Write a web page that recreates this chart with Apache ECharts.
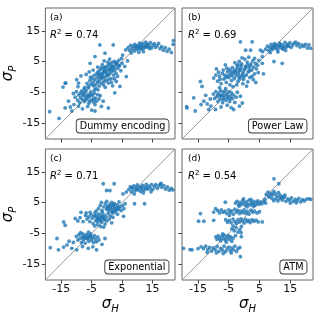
<!DOCTYPE html>
<html>
<head>
<meta charset="utf-8">
<script src="https://cdn.jsdelivr.net/npm/echarts@6/dist/echarts.min.js"></script>
<style>
html,body{margin:0;padding:0;background:#fff}
#main{width:320px;height:320px}
</style>
</head>
<body>
<div id="main"></div>
<script>
// axis / labels
var tickValues=[-15,-5,5,15];
var axisMin=-20.2, axisMax=22.4;
var panelTags=['(a)','(b)','(c)','(d)'];
var r2Values=['0.74','0.69','0.71','0.54'];
var modelNames=['Dummy encoding','Power Law','Exponential','ATM'];

// (a) dummy encoding : [sigma_H, sigma_P]
var pointsA=[
[6.2,8.8],[7.0,9.5],[7.5,8.6],[7.8,10.2],[8.3,9.1],[8.6,9.9],[9.0,8.4],[9.2,10.6],[9.5,9.4],[9.9,8.9],
[10.1,10.1],[10.4,9.6],[10.7,11.0],[11.0,9.0],[11.2,10.4],[11.5,9.8],[11.8,10.9],[12.1,9.3],[12.4,10.2],[12.8,11.3],
[13.1,9.7],[13.5,10.6],[13.9,10.0],[14.3,11.1],[14.7,9.4],[15.2,10.3],[15.6,10.8],[16.0,9.6],[16.5,10.1],[17.0,10.9],
[17.5,9.2],[18.0,9.8],[18.6,8.7],[19.2,9.5],[19.8,8.3],[20.5,9.0],[21.2,7.9],[21.8,10.6],[21.9,11.8],[8.0,7.8],
[5.2,7.1],[10.5,8.0],[12.0,8.2],[9.6,10.0],[11.4,9.2],[12.7,9.8],[14.0,9.2],[10.8,9.6],[13.3,10.4],
[-7.2,-3.4],[-6.5,-2.1],[-6.0,-3.0],[-5.6,-1.2],[-5.2,-2.4],[-4.9,-0.5],[-4.6,-1.8],[-4.3,0.4],[-4.0,-1.0],[-3.8,-2.6],
[-3.5,0.9],[-3.3,-0.3],[-3.0,1.5],[-2.8,-1.4],[-2.6,0.2],[-2.4,2.1],[-2.2,-0.8],[-2.0,1.0],[-1.8,-2.0],[-1.6,0.6],
[-1.4,2.6],[-1.2,-0.2],[-1.0,1.6],[-0.8,3.2],[-0.6,0.0],[-0.4,2.0],[-0.2,-1.2],[0.0,1.2],[0.2,3.6],[0.4,0.4],
[0.6,2.4],[0.8,4.2],[1.0,1.0],[1.2,2.9],[1.4,-0.6],[1.6,4.6],[1.8,1.8],[2.0,3.4],[2.2,0.6],[2.4,5.0],
[2.6,2.2],[2.8,3.9],[3.0,1.2],[3.3,4.6],[3.6,2.8],[3.9,5.4],[4.2,3.6],[4.6,2.0],[5.0,4.4],[-1.5,4.0],
[-3.0,3.2],[-4.5,2.2],[0.5,-2.0],[1.5,-1.8],[-2.5,-3.0],[-0.5,-3.4],[2.5,-0.6],[3.5,0.2],[-6.8,0.8],[-5.8,1.6],
[-0.9,5.2],[0.9,5.8],[-2.9,-4.2],[4.8,6.0],[-1.9,3.0],[0.3,4.8],[1.9,-2.9],[-3.6,-3.8],[-1.1,-2.6],[3.1,-1.5],
[-4.1,-4.3],[-2.1,0.3],[-1.3,1.1],[-0.7,1.9],[0.1,0.7],[0.9,2.0],[1.7,2.6],[2.3,3.0],[-0.3,3.0],[-1.7,-0.4],
[-3.1,-1.9],[-2.7,0.9],[0.6,-0.8],[1.4,3.7],[2.9,4.6],[-4.4,-2.9],[-5.4,-0.1],[3.8,3.8],[-0.9,-1.5],
[-2.3,10.4],[2.1,10.4],[-0.6,7.7],[-3.9,6.6],[-5.5,4.4],[-9.9,-0.9],[-13.7,-2.0],[-14.4,-3.3],[-9.3,-2.0],[5.9,3.4],
[6.4,0.1],[4.3,-3.1],[2.6,-5.2],[-8.5,0.3],[6.8,5.2],
[-11.0,-5.4],[-10.4,-6.6],[-10.0,-4.8],[-9.6,-7.6],[-9.2,-5.9],[-8.9,-8.4],[-8.6,-6.8],[-8.3,-4.6],[-8.0,-7.3],[-7.7,-5.5],
[-7.4,-8.0],[-7.1,-6.3],[-6.8,-4.4],[-6.5,-7.0],[-6.2,-5.7],[-5.9,-8.6],[-5.6,-6.5],[-5.3,-4.9],[-5.0,-7.6],[-4.7,-6.0],
[-4.4,-8.2],[-4.1,-5.3],[-3.8,-6.9],[-3.4,-7.9],[-3.0,-5.8],[-2.6,-7.2],[-2.2,-6.1],[-6.0,-3.6],[-7.5,-3.9],[-9.5,-3.2],
[-7.9,-6.0],[-6.9,-7.4],[-6.1,-6.2],[-5.2,-5.6],[-4.3,-7.2],[-7.3,-5.0],[-8.7,-5.3],[-5.7,-7.9],
[-12.6,-7.9],[-13.7,-10.1],[-11.5,-11.1],[-9.3,-9.5],[-3.9,-9.0],[-1.2,-7.9],[0.5,-10.1],[-3.9,-11.1],[-10.8,-9.0],[-12.0,-9.8],
[-8.0,-10.4],[-6.3,-9.6],[-5.0,-10.8],[-1.8,-9.6],[-18.8,-11.3],[-15.7,-13.5],[-13.5,-2.0]
];

// (b) power law
var pointsB=[
[7.0,9.0],[7.6,10.0],[8.0,8.6],[8.4,9.6],[8.8,10.6],[9.2,8.9],[9.5,9.9],[9.9,10.8],[10.2,9.3],[10.5,10.3],
[10.9,8.8],[11.2,9.8],[11.5,11.0],[11.9,9.5],[12.2,10.5],[12.6,9.0],[12.9,10.1],[13.3,11.2],[13.7,9.7],[14.1,10.6],
[14.5,10.0],[14.9,11.1],[15.3,9.6],[15.8,10.4],[16.3,11.0],[16.8,11.3],[17.2,10.2],[17.7,10.8],[18.2,9.7],[18.8,10.4],
[19.4,9.9],[20.0,10.6],[20.6,9.4],[21.1,10.4],[21.7,9.3],[6.0,8.2],[8.5,7.9],[11.0,8.1],[13.5,8.6],[9.7,5.0],
[12.4,4.4],[5.9,6.6],[10.0,9.8],[11.6,10.2],[12.8,9.4],[14.2,10.2],[9.0,9.4],
[-1.2,11.4],[2.6,11.4],[0.5,8.7],[2.1,8.7],[5.3,8.7],[-6.1,3.9],[5.9,4.4],[-14.2,-1.5],[-13.7,-3.1],[3.8,-1.8],
[6.3,1.0],[-9.0,2.6],
[-9.9,-0.4],[-9.2,0.6],[-8.6,-1.4],[-8.0,0.2],[-7.5,-2.2],[-7.0,1.1],[-6.6,-0.7],[-6.2,0.5],[-5.8,-1.8],[-5.4,1.6],
[-5.0,-0.2],[-4.7,2.4],[-4.4,0.8],[-4.1,-1.2],[-3.8,3.0],[-3.5,1.2],[-3.2,-0.6],[-2.9,2.2],[-2.6,0.3],[-2.3,3.6],
[-2.0,-1.5],[-1.7,1.8],[-1.4,0.0],[-1.1,2.8],[-0.8,4.2],[-0.5,1.0],[-0.2,-0.8],[0.1,2.4],[0.4,3.4],[0.7,0.6],
[1.0,4.8],[1.3,1.6],[1.6,3.0],[1.9,-0.2],[2.2,4.2],[2.5,2.2],[2.8,5.2],[3.1,3.2],[3.4,1.0],[3.7,4.4],
[4.0,2.6],[4.4,3.8],[4.8,5.4],[-3.0,4.6],[-1.6,5.0],[0.2,5.8],[-5.6,2.8],[-2.4,-2.6],[-0.4,-2.2],[1.2,-1.6],
[-4.6,-2.6],[2.6,0.2],[-6.8,2.2],[-3.6,-3.2],[0.8,-3.0],[-1.0,3.6],[-2.0,4.0],[1.8,2.0],[-3.3,1.9],[0.0,0.2],
[-1.9,0.9],[3.0,-0.9],[-7.8,-0.8],[-8.3,1.5],[-5.2,0.3],[4.6,1.4],[-0.7,6.2],[1.5,6.4],[3.4,6.0],
[-2.7,1.4],[-1.3,2.2],[-0.3,1.6],[0.5,2.9],[1.1,3.9],[-0.9,0.2],[-2.2,2.8],[-3.9,0.3],[2.0,3.6],[-4.3,1.7],
[-6.0,-0.2],[-1.6,-0.6],
[-10.0,-5.6],[-9.6,-7.0],[-9.2,-4.8],[-8.9,-6.4],[-8.5,-8.0],[-8.2,-5.3],[-7.9,-7.2],[-7.6,-4.4],[-7.3,-6.1],[-7.0,-8.4],
[-6.8,-5.0],[-6.5,-6.8],[-6.2,-4.6],[-5.9,-7.6],[-5.6,-5.6],[-5.3,-6.9],[-5.0,-4.8],[-4.7,-8.0],[-4.4,-6.2],[-4.1,-5.2],
[-3.8,-7.1],[-3.4,-5.9],[-3.0,-8.3],[-2.6,-6.6],[-2.2,-5.0],[-6.0,-3.8],[-8.0,-3.5],[-1.2,-6.3],[-0.6,-8.5],[-13.1,-7.9],
[-7.7,-6.2],[-6.6,-5.9],[-5.4,-6.3],[-6.9,-7.4],[-8.6,-5.9],[-4.6,-7.1],
[-16.4,-6.8],[-18.6,-10.1],[-15.9,-11.1],[-11.5,-10.6],[-9.3,-10.6],[-3.4,-10.6],[-12.0,-8.8],[-10.8,-9.5],[-7.5,-9.8],[-5.5,-9.2],
[-4.2,-10.0],[-11.0,-7.2],[-14.0,-9.0],[-1.5,-9.5],[-18.7,-9.7],[-12.5,-6.0]
];

// (c) exponential
var pointsC=[
[7.2,9.2],[7.7,10.1],[8.1,8.5],[8.5,9.6],[8.9,10.4],[9.3,8.8],[9.7,9.8],[10.0,10.7],[10.4,9.1],[10.8,10.1],
[11.1,8.6],[11.5,9.5],[11.8,10.6],[12.2,9.0],[12.6,10.0],[13.0,10.9],[13.4,9.4],[13.8,10.3],[14.2,9.7],[14.7,10.8],
[15.1,9.2],[15.6,10.2],[16.1,10.8],[16.6,9.6],[17.1,10.4],[17.6,11.0],[18.1,9.9],[18.7,10.5],[19.3,9.4],[19.9,10.1],
[20.5,9.0],[21.1,9.6],[21.7,9.1],[6.4,8.4],[9.0,7.8],[12.0,8.1],[14.5,8.5],[9.1,4.6],[12.4,4.6],[5.3,7.8],
[17.8,11.2],[9.9,9.3],[11.3,10.0],[12.9,9.6],[8.2,9.9],
[-1.2,11.1],[2.4,11.1],[1.0,8.9],[-0.1,8.9],[-14.2,-1.3],[-13.7,-2.4],[-8.5,1.8],[5.5,0.5],
[-2.8,3.0],[-2.2,4.0],[-1.6,2.4],[-1.0,3.6],[-0.5,4.6],[-0.1,2.8],[0.3,3.8],[0.7,2.2],[1.0,4.4],[1.3,3.2],
[1.6,5.0],[1.9,2.6],[2.2,3.8],[2.5,4.6],[2.8,2.0],[3.1,3.4],[3.4,4.2],[3.7,2.8],[4.0,5.2],[4.3,3.6],
[4.7,2.4],[5.1,4.0],[5.6,3.0],[0.0,5.4],[-1.8,5.0],[2.0,1.6],[3.5,1.2],[6.0,4.6],[0.6,3.0],[2.6,3.1],
[1.2,3.7],[2.0,4.3],[3.0,2.6],[0.2,3.4],[1.7,2.0],[3.9,3.2],
[-7.0,0.8],[-6.5,-0.4],[-6.0,0.3],[-5.6,-1.2],[-5.2,1.0],[-4.8,-0.1],[-4.5,-1.8],[-4.2,0.6],[-3.9,1.6],[-3.6,-0.8],
[-3.3,0.2],[-3.0,-2.2],[-2.7,1.2],[-2.4,-0.4],[-2.1,0.8],[-1.8,-1.4],[-1.5,1.8],[-1.2,-0.2],[-0.9,0.9],[-0.6,-2.0],
[-0.3,0.3],[0.0,-1.0],[0.4,1.4],[0.8,-0.4],[1.2,0.6],[1.6,-1.6],[2.0,0.2],[-2.0,-2.8],[-4.0,-2.6],[-1.0,-3.0],
[-3.5,2.2],[-5.5,1.8],[-10.4,-0.2],[-9.5,-1.0],[-8.8,0.1],[-7.8,-1.2],[-6.8,1.6],[-2.6,0.0],[-1.4,0.4],[-3.2,-1.2],
[-2.2,-0.9],[-1.6,0.1],[-3.7,0.7],[-0.8,-0.6],[-2.9,-0.4],
[-10.0,-6.0],[-9.5,-7.2],[-9.1,-5.4],[-8.7,-6.6],[-8.3,-8.0],[-8.0,-5.2],[-7.7,-7.0],[-7.4,-6.0],[-7.1,-8.2],[-6.8,-5.4],
[-6.5,-6.8],[-6.2,-5.8],[-5.9,-7.6],[-5.6,-6.2],[-5.3,-5.2],[-5.0,-7.2],[-4.7,-6.4],[-4.4,-8.0],[-4.1,-5.8],[-3.8,-6.9],
[-3.4,-7.8],[-3.0,-6.2],[-2.6,-7.2],[-6.0,-4.6],[-8.6,-4.8],[-7.2,-6.4],[-6.2,-6.6],[-5.4,-5.8],[-7.9,-6.2],
[-16.4,-6.7],[-18.6,-9.7],[-15.9,-10.4],[-13.1,-8.8],[-11.5,-9.9],
[-9.9,-10.4],[-3.4,-10.4],[-0.6,-6.7],[-6.1,-9.9],[-12.4,-7.6],[-8.0,-9.3],[-4.6,-9.4],[-1.6,-8.6],[-14.2,-9.5],[-11.0,-8.0]
];

// (d) ATM
var pointsD=[
[7.2,7.6],[7.8,8.4],[8.3,7.2],[8.8,8.0],[9.3,7.5],[9.7,8.6],[10.2,7.8],[10.7,7.0],[11.2,8.2],[11.7,7.4],
[12.2,6.6],[9.0,6.4],[9.6,5.6],[10.3,6.2],[11.0,5.5],[11.6,6.3],[12.4,5.8],[13.0,6.6],[13.6,5.4],[14.2,6.2],
[14.8,5.7],[15.4,6.5],[16.0,5.3],[16.6,6.0],[17.2,5.6],[17.8,6.3],[18.4,5.2],[19.0,5.9],[19.6,5.5],[20.3,6.1],
[21.1,6.2],[21.7,6.0],[13.3,7.4],[15.0,4.8],[17.0,4.9],[11.3,11.1],[9.7,12.7],[8.0,6.8],[12.8,7.0],[6.8,6.0],
[-2.8,4.8],[-2.3,5.4],[-1.8,4.2],[-1.3,5.0],[-0.8,4.4],[-0.4,5.6],[0.0,4.8],[0.4,4.0],[0.8,5.2],[1.2,4.5],
[1.6,5.8],[2.0,4.2],[2.4,5.0],[2.8,4.6],[3.2,5.4],[3.6,4.1],[4.0,4.9],[4.4,5.5],[4.8,4.4],[5.3,5.1],
[5.8,4.6],[6.4,5.3],[7.0,4.8],[-0.2,6.2],[1.0,3.6],[3.0,3.8],[-1.6,3.8],[2.2,6.0],
[-8.6,2.4],[-8.0,1.6],[-7.4,2.6],[-6.8,1.8],[-6.2,2.2],[-5.6,1.4],[-5.0,2.6],[-4.5,1.8],[-4.0,2.3],[-3.5,1.2],
[-3.0,2.8],[-2.5,1.9],[-2.0,2.4],[-1.5,1.4],[-1.0,2.2],[-0.5,1.7],[0.0,2.6],[0.5,1.5],[1.0,2.1],[1.6,1.2],
[2.2,2.5],[2.8,1.8],[3.4,2.2],[4.2,1.6],[5.0,2.0],[-6.1,5.1],[-9.3,3.0],[-9.9,1.9],[-14.2,1.4],[-4.8,0.8],
[-6.0,-0.6],[-5.4,-1.4],[-4.8,-0.8],[-4.2,-1.6],[-3.6,-0.4],[-3.0,-1.2],[-2.5,-1.8],[-2.0,-0.6],[-1.5,-1.3],[-1.0,-0.3],
[-0.5,-1.0],[0.0,-1.7],[0.5,-0.5],[1.0,-1.2],[1.5,-0.8],[2.0,-1.5],[2.6,-0.6],[3.2,-1.1],[3.9,-0.7],[4.6,-1.3],
[5.9,-1.3],[-13.1,-1.1],[-14.8,-1.1],[-9.9,-0.8],
[-4.0,-3.6],[-3.2,-4.2],[-2.6,-3.2],[-2.0,-4.6],[-1.4,-3.8],[-0.9,-2.8],[-3.6,-2.6],[-1.0,-4.8],
[-9.2,-6.2],[-8.8,-7.0],[-8.4,-5.8],[-8.0,-6.6],[-7.6,-7.4],[-7.2,-6.0],[-6.8,-6.8],[-6.4,-5.6],[-6.0,-7.2],[-5.6,-6.4],
[-5.2,-5.8],[-4.8,-7.0],[-4.4,-6.2],[-4.0,-7.6],[-3.6,-6.6],[-7.0,-5.2],[-5.8,-7.9],[-0.9,-6.1],[-2.8,-5.8],
[-14.0,-9.4],[-13.2,-10.0],[-12.5,-9.2],[-11.8,-10.3],[-11.2,-9.6],[-10.6,-10.8],[-10.0,-9.8],[-9.4,-10.4],[-8.8,-9.3],[-8.2,-10.9],
[-7.6,-9.9],[-7.0,-10.5],[-6.5,-9.2],[-6.0,-11.0],[-5.5,-10.1],[-5.0,-9.5],[-4.5,-10.7],[-4.0,-9.8],[-3.5,-10.4],[-3.0,-9.2],
[-2.5,-10.9],[-2.0,-10.0],[-1.4,-9.6],[-9.0,-11.4],[-12.0,-11.2],[-6.8,-11.6],[-4.2,-11.4],[-1.2,-12.6],[-19.7,-9.9],[-16.9,-10.4],
[-17.6,-10.3],[-15.0,-10.0]
];

var panelPoints=[pointsA,pointsB,pointsC,pointsD];
var FONT='DejaVu Sans';
var chart=echarts.init(document.getElementById('main'));

var pos=[[44,8],[182,8],[44,149],[182,149]];
var W=131, H=131;
var grids=[], xAxes=[], yAxes=[], series=[], graphics=[];

var nameRich={
    s:{fontSize:15,fontStyle:'italic',fontFamily:FONT,color:'#000',lineHeight:20},
    sub:{fontSize:10,fontStyle:'italic',fontFamily:FONT,color:'#000',verticalAlign:'bottom'}
};

for(var i=0;i<4;i++){
    var L=pos[i][0], T=pos[i][1];
    var bottomRow=i>=2, leftCol=(i%2==0);
    grids.push({left:L,top:T,width:W,height:H,show:true,borderColor:'#666',borderWidth:1,backgroundColor:'#fff'});
    xAxes.push({
        gridIndex:i,type:'value',min:axisMin,max:axisMax,position:'bottom',
        axisLine:{show:false,onZero:false},splitLine:{show:false},
        axisTick:{show:true,length:3.5,lineStyle:{color:'#444'},customValues:tickValues},
        axisLabel:{show:bottomRow,margin:4,fontSize:11,fontFamily:FONT,color:'#111',customValues:tickValues},
        name:bottomRow?'{s|σ}{sub|H}':'',nameLocation:'middle',nameGap:14,
        nameTextStyle:{rich:nameRich}
    });
    yAxes.push({
        gridIndex:i,type:'value',min:axisMin,max:axisMax,position:'left',
        axisLine:{show:false,onZero:false},splitLine:{show:false},
        axisTick:{show:true,length:3.5,lineStyle:{color:'#444'},customValues:tickValues},
        axisLabel:{show:leftCol,margin:5,fontSize:11,fontFamily:FONT,color:'#111',customValues:tickValues},
        name:leftCol?'{s|σ}{sub|P}':'',nameLocation:'middle',nameGap:22,
        nameTextStyle:{rich:nameRich}
    });
    series.push({
        type:'line',xAxisIndex:i,yAxisIndex:i,data:[[axisMin,axisMin],[axisMax,axisMax]],
        showSymbol:false,silent:true,z:1,lineStyle:{color:'#999',width:1}
    });
    series.push({
        type:'scatter',xAxisIndex:i,yAxisIndex:i,data:panelPoints[i],
        symbolSize:3.8,z:2,itemStyle:{color:'#1f77b4',opacity:0.8}
    });
    graphics.push({
        type:'text',x:L+6,y:T+5.5,z:10,
        style:{text:panelTags[i],fontSize:9,fontFamily:FONT,fill:'#000'}
    });
    graphics.push({
        type:'text',x:L+6,y:T+20.5,z:10,
        style:{
            text:'{i|R}{sup|2}{n| = '+r2Values[i]+'}',
            rich:{
                i:{fontSize:10,fontStyle:'italic',fontFamily:FONT,fill:'#000',lineHeight:14},
                sup:{fontSize:7,fontFamily:FONT,fill:'#000',verticalAlign:'top',lineHeight:10},
                n:{fontSize:10,fontFamily:FONT,fill:'#000',lineHeight:14}
            }
        }
    });
    graphics.push({
        type:'text',x:L+W-6.5,y:T+124.5,z:10,
        style:{
            text:modelNames[i],fontSize:9.7,fontFamily:FONT,fill:'#000',
            align:'right',verticalAlign:'bottom',
            backgroundColor:'#fff',borderColor:'#333',borderWidth:0.9,borderRadius:3,
            padding:[2,3,1,3]
        }
    });
}

chart.setOption({
    animation:false,
    grid:grids,
    xAxis:xAxes,
    yAxis:yAxes,
    series:series,
    graphic:graphics
});
</script>
</body>
</html>
